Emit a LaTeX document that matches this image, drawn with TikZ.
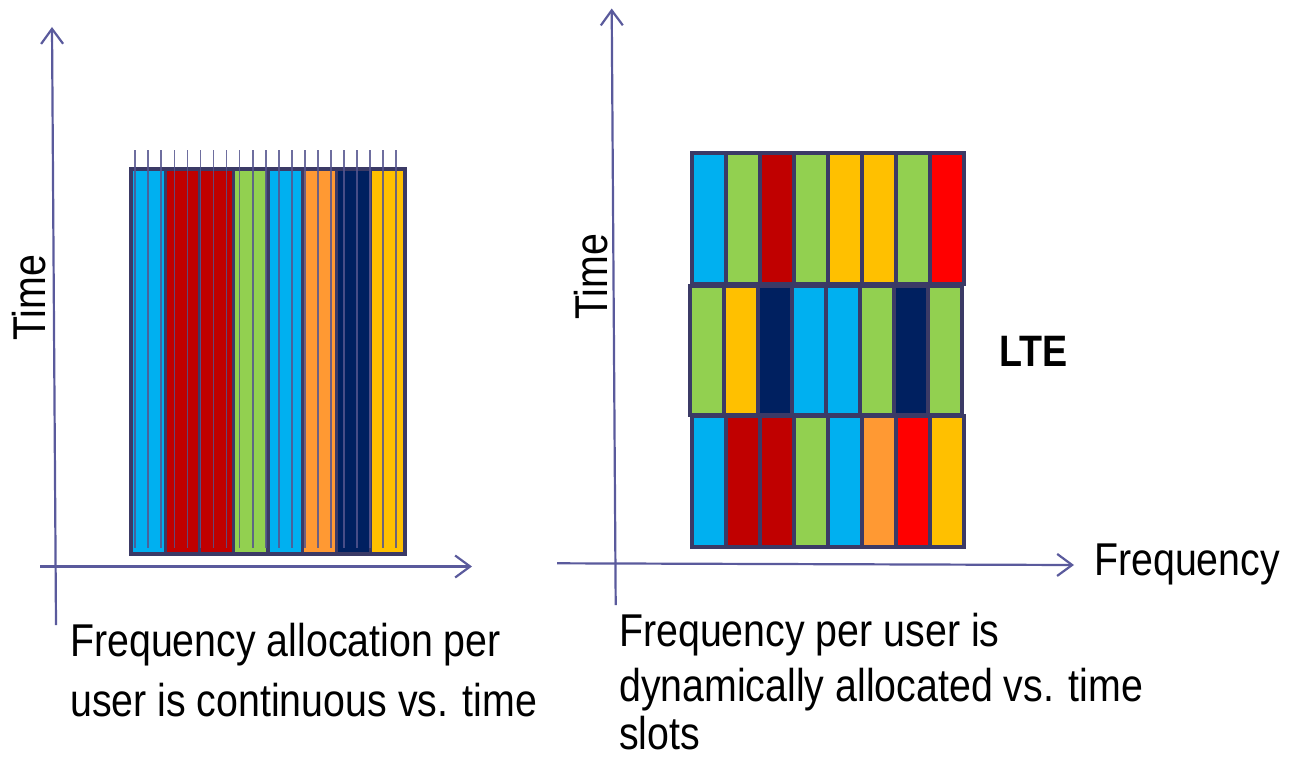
\documentclass[tikz,border=0pt]{standalone}
\usepackage{fontspec}
\setmainfont{Liberation Sans}[FakeStretch=0.855]
\usetikzlibrary{arrows.meta}
\definecolor{ccyan}{HTML}{00B0F0}
\definecolor{cdred}{HTML}{C00000}
\definecolor{cgreen}{HTML}{92D050}
\definecolor{corange}{HTML}{FF9933}
\definecolor{cnavy}{HTML}{002060}
\definecolor{cgold}{HTML}{FFC000}
\definecolor{cred}{HTML}{FF0000}
\definecolor{cborder}{HTML}{3B3A66}
\definecolor{caxis}{HTML}{5A5A9C}
\definecolor{ctick}{HTML}{55558E}
\begin{document}
\begin{tikzpicture}[x=1pt,y=-1pt,
  axis/.style={draw=caxis, line width=2.2pt, -{Straight Barb[length=15pt,width=22pt,line width=2.2pt]}},
  cellbox/.style={draw=cborder, line width=3.3pt},
  rowbox/.style={draw=cborder, line width=3.5pt},
  tickline/.style={draw=ctick, line width=1.8pt, opacity=0.85},
  lbl/.style={inner sep=0pt, font=\fontsize{46}{55}\selectfont, text=black},
  boldlbl/.style={inner sep=0pt, font=\fontsize{44}{52}\selectfont\bfseries, text=black}]
\useasboundingbox (0,0) rectangle (1292,757);

% ---------- left diagram ----------
\foreach \c [count=\i from 0] in {ccyan,cdred,cdred,cgreen,ccyan,corange,cnavy,cgold}{
  \path[cellbox, fill=\c] ({131+34.25*\i},169) rectangle ({131+34.25*(\i+1)},554);
}
\draw[rowbox] (131,169) rectangle (405,554);
\foreach \k in {0,...,20}{
  \coordinate (tt\k) at ({135.3+13.035*\k},150);
  \coordinate (tb\k) at ({135.3+13.035*\k},548);
  \draw[tickline] (tt\k) -- (tb\k);
}

\coordinate (lyb) at (56,625);
\coordinate (lyt) at (52,27);
\coordinate (lxl) at (40,566.5);
\coordinate (lxr) at (472,566.5);
\draw[axis] (lyb) -- (lyt);
\draw[axis] (lxl) -- (lxr);

\node[lbl, rotate=90, anchor=base west] (ltime) at (45,341) {Time};
\node[lbl, anchor=base west] (lt1) at (70,656.7) {Frequency allocation per};
\node[lbl, anchor=base west] (lt2) at (70,716) {user is continuous vs. time};

% ---------- right diagram ----------
\foreach \c [count=\i from 0] in {ccyan,cgreen,cdred,cgreen,cgold,cgold,cgreen,cred}{
  \path[cellbox, fill=\c] ({692+34*\i},153) rectangle ({692+34*(\i+1)},284);
}
\draw[rowbox] (692,153) rectangle (964,284);
\foreach \c [count=\i from 0] in {cgreen,cgold,cnavy,ccyan,ccyan,cgreen,cnavy,cgreen}{
  \path[cellbox, fill=\c] ({690+34*\i},286) rectangle ({690+34*(\i+1)},415);
}
\draw[rowbox] (690,286) rectangle (962,415);
\foreach \c [count=\i from 0] in {ccyan,cdred,cdred,cgreen,ccyan,corange,cred,cgold}{
  \path[cellbox, fill=\c] ({692+34*\i},416) rectangle ({692+34*(\i+1)},547);
}
\draw[rowbox] (692,416) rectangle (964,547);

\coordinate (ryb) at (615.7,605);
\coordinate (ryt) at (611.7,8.5);
\coordinate (rxl) at (557,563.3);
\coordinate (rxr) at (1074,565);
\draw[axis] (ryb) -- (ryt);
\draw[axis] (rxl) -- (rxr);

\node[lbl, rotate=90, anchor=base west] (rtime) at (607,320) {Time};
\node[boldlbl, anchor=base west] (lte) at (999,366) {LTE};
\node[lbl, anchor=base west] (freq) at (1094,575) {Frequency};
\node[lbl, anchor=base west] (rt1) at (619,646) {Frequency per user is};
\node[lbl, anchor=base west] (rt2) at (619,701) {dynamically allocated vs. time};
\node[lbl, anchor=base west] (rt3) at (619,749) {slots};
\end{tikzpicture}
\end{document}
